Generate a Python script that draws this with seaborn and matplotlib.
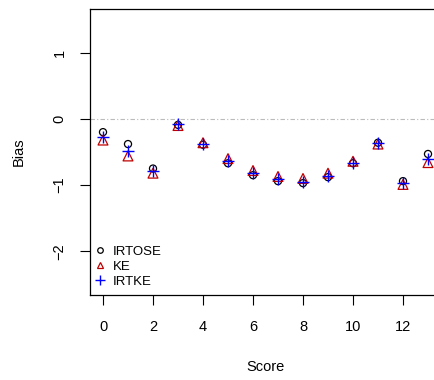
import numpy as np
import pandas as pd
import matplotlib
matplotlib.use("Agg")
import matplotlib.pyplot as plt
import seaborn as sns
from matplotlib.lines import Line2D

sns.set_style("white")
plt.rcParams["font.family"] = ["Liberation Sans", "DejaVu Sans"]
plt.rcParams.update({"text.color": "black", "axes.labelcolor": "black",
                     "xtick.color": "black", "ytick.color": "black"})

score = [0, 1, 2, 3, 4, 5, 6, 7, 8, 9, 10, 11, 12, 13]
irtose = [-0.20, -0.38, -0.75, -0.09, -0.39, -0.67, -0.85, -0.94, -0.97, -0.88, -0.67, -0.36, -0.94, -0.53]
ke = [-0.32, -0.56, -0.82, -0.10, -0.36, -0.60, -0.78, -0.87, -0.90, -0.82, -0.64, -0.38, -0.99, -0.66]
irtke = [-0.27, -0.48, -0.79, -0.08, -0.38, -0.63, -0.82, -0.91, -0.95, -0.86, -0.66, -0.36, -0.97, -0.60]

df = pd.DataFrame({"Score": score, "IRTOSE": irtose, "KE": ke, "IRTKE": irtke})

fig = plt.figure(figsize=(4.34, 3.80), dpi=100)
W, H = 434, 380
left, right, top, bottom = 90, 441, 9, 295
ax = fig.add_axes([left / W, 1 - bottom / H, (right - left) / W, (bottom - top) / H])

red = "#C00000"
sns.scatterplot(data=df, x="Score", y="IRTOSE", ax=ax, marker="o", s=26,
                facecolor="none", edgecolor="black", linewidth=0.9, zorder=3)
sns.scatterplot(data=df, x="Score", y="KE", ax=ax, marker="^", s=50,
                facecolor="none", edgecolor=red, linewidth=0.9, zorder=3)
sns.scatterplot(data=df, x="Score", y="IRTKE", ax=ax, marker="+", s=70,
                color="blue", linewidth=1.0, zorder=4)

ax.axhline(0, color="#BBBBBB", linestyle=(0, (4, 2, 1, 2)), linewidth=0.8, zorder=1)

ax.set_xlim(-0.52, 13.52)
ax.set_ylim(-2.66, 1.66)
ax.set_xticks([0, 2, 4, 6, 8, 10, 12])
ax.set_yticks([-2, -1, 0, 1])
ax.set_yticklabels(["\u22122", "\u22121", "0", "1"], rotation=90, va="center")
ax.tick_params(axis="both", direction="out", length=7, width=0.8,
               labelsize=10.5, left=True, bottom=True)
ax.tick_params(axis="x", pad=11)
ax.tick_params(axis="y", pad=10)
for s in ax.spines.values():
    s.set_color("black")
    s.set_linewidth(0.9)

ax.set_xlabel("Score", fontsize=10.5, labelpad=19)
ax.set_ylabel("Bias", fontsize=10.5, labelpad=19)

handles = [
    Line2D([], [], marker="o", linestyle="none", markerfacecolor="none",
           markeredgecolor="black", markersize=4, markeredgewidth=0.9),
    Line2D([], [], marker="^", linestyle="none", markerfacecolor="none",
           markeredgecolor=red, markersize=5, markeredgewidth=0.9),
    Line2D([], [], marker="+", linestyle="none", color="blue",
           markersize=7, markeredgewidth=1.0),
]
ax.legend(handles, ["IRTOSE", "KE", "IRTKE"], loc="lower left",
          bbox_to_anchor=(-0.017, -0.008), frameon=False, fontsize=9.5,
          handletextpad=0.5, handlelength=1.0, labelspacing=0.22,
          borderaxespad=0.4, borderpad=0.3)

fig.savefig("out.png", dpi=100)
